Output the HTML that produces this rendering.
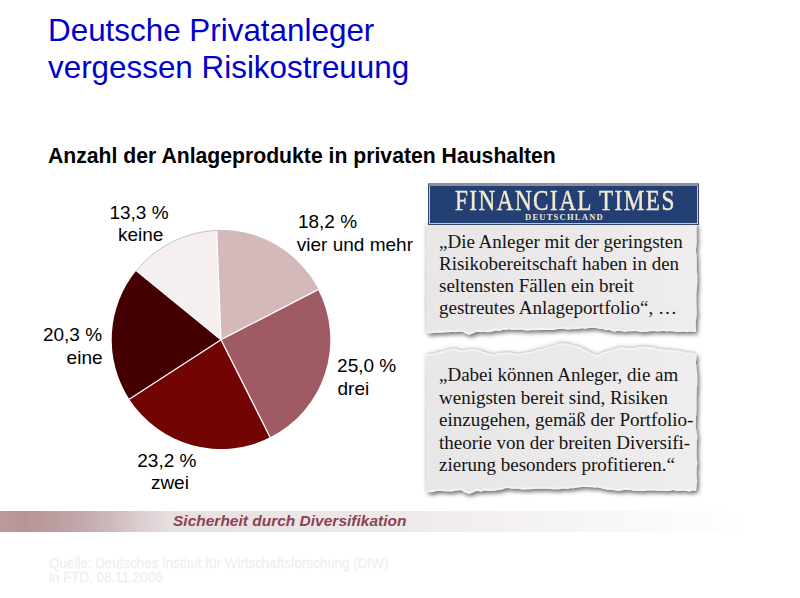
<!DOCTYPE html>
<html><head><meta charset="utf-8">
<style>
html,body{margin:0;padding:0;background:#fff;width:800px;height:598px;overflow:hidden;position:relative}
.a{position:absolute;white-space:nowrap}
.sans{font-family:"Liberation Sans",sans-serif}
.serif{font-family:"Liberation Serif",serif}
#title{left:48px;top:13.3px;font-size:31.4px;line-height:36.8px;color:#0000cc}
#sub{left:48px;top:143.3px;font-size:21.2px;font-weight:bold;color:#000;line-height:26px}
.lbl{font-size:19px;line-height:22px;color:#000}
#bar{left:0;top:511px;width:800px;height:21px;background:linear-gradient(to right,#bb999d 0px,#b89497 25px,#bea3a6 70px,#ccb8ba 110px,#dbcfd0 140px,#e6dfe0 170px,#efeaea 400px,#f8f6f6 600px,#fff 750px)}
#bartxt{left:173px;top:511.3px;font-size:15.5px;line-height:20px;font-weight:bold;font-style:italic;color:#8c4254}
.note{font-size:19px;line-height:22px;color:#141414}
#foot{left:49px;top:556px;font-size:13.4px;line-height:13.3px;color:#efefef;-webkit-text-stroke:0.35px #efefef;transform:scaleY(1.1);transform-origin:0 0}
</style></head>
<body>
<div id="title" class="a sans">Deutsche Privatanleger<br>vergessen Risikostreuung</div>
<div id="sub" class="a sans">Anzahl der Anlageprodukte in privaten Haushalten</div>

<svg class="a" style="left:0;top:0" width="800" height="598" viewBox="0 0 800 598">
  <g id="pie"><path d="M221.0,339.7 L216.61,230.49 A109.3,109.3 0 0 1 318.13,289.57 Z" fill="#d4b8ba"/><path d="M221.0,339.7 L318.13,289.57 A109.3,109.3 0 0 1 270.11,437.35 Z" fill="#a05a64"/><path d="M221.0,339.7 L270.11,437.35 A109.3,109.3 0 0 1 129.28,399.15 Z" fill="#720404"/><path d="M221.0,339.7 L129.28,399.15 A109.3,109.3 0 0 1 136.30,270.62 Z" fill="#440000"/><path d="M221.0,339.7 L136.30,270.62 A109.3,109.3 0 0 1 216.61,230.49 Z" fill="#f5efef"/><line x1="221.0" y1="339.7" x2="216.57" y2="229.49" stroke="#fff" stroke-width="1.3"/><line x1="221.0" y1="339.7" x2="319.01" y2="289.11" stroke="#fff" stroke-width="1.3"/><line x1="221.0" y1="339.7" x2="270.56" y2="438.24" stroke="#fff" stroke-width="1.3"/><line x1="221.0" y1="339.7" x2="128.44" y2="399.69" stroke="#fff" stroke-width="1.3"/><line x1="221.0" y1="339.7" x2="135.52" y2="269.99" stroke="#fff" stroke-width="1.3"/><path d="M136.30,270.62 A109.3,109.3 0 0 1 318.13,289.57" fill="none" stroke="#c8b6ba" stroke-width="0.9"/></g>
</svg>



<div class="a sans lbl" id="l0" style="left:109.4px;top:201.6px">13,3 %</div>
<div class="a sans lbl" id="l1" style="left:118.0px;top:223.9px">keine</div>
<div class="a sans lbl" id="l2" style="left:297.9px;top:211.4px">18,2 %</div>
<div class="a sans lbl" id="l3" style="left:296.8px;top:233.7px">vier und mehr</div>
<div class="a sans lbl" id="l4" style="left:42.9px;top:324.4px">20,3 %</div>
<div class="a sans lbl" id="l5" style="left:66.6px;top:346.7px">eine</div>
<div class="a sans lbl" id="l6" style="left:337.1px;top:355.1px">25,0 %</div>
<div class="a sans lbl" id="l7" style="left:337.5px;top:377.6px">drei</div>
<div class="a sans lbl" id="l8" style="left:137.3px;top:450.0px">23,2 %</div>
<div class="a sans lbl" id="l9" style="left:150.9px;top:471.7px">zwei</div>
<svg class="a" id="notes" style="left:0;top:0" width="800" height="598" viewBox="0 0 800 598">
  <defs>
    <filter id="sh" x="-10%" y="-10%" width="125%" height="130%">
      <feGaussianBlur in="SourceAlpha" stdDeviation="2.6" result="h"/>
      <feComponentTransfer in="h" result="h2"><feFuncA type="linear" slope="0.22"/></feComponentTransfer>
      <feGaussianBlur in="SourceAlpha" stdDeviation="1.9"/>
      <feOffset dx="2.2" dy="2.8"/>
      <feComponentTransfer result="b2"><feFuncA type="linear" slope="0.5"/></feComponentTransfer>
      <feMerge><feMergeNode in="h2"/><feMergeNode in="b2"/><feMergeNode in="SourceGraphic"/></feMerge>
    </filter>
    <linearGradient id="pg" x1="0" y1="0" x2="1" y2="0">
      <stop offset="0" stop-color="#e8e6e6"/><stop offset="0.6" stop-color="#ebe9e9"/><stop offset="1" stop-color="#efeded"/>
    </linearGradient>
  </defs>
  <g filter="url(#sh)">
    <path fill="url(#pg)" d="M426.5,223.0 L696.5,223.0 L696.5,232.1 L696.8,241.1 L695.8,250.2 L696.8,259.2 L696.7,268.2 L697.3,277.3 L697.0,286.4 L696.2,295.4 L696.3,304.5 L696.8,313.5 L695.7,322.6 L696.0,331.6 L692.8,331.3 L689.6,331.1 L686.4,331.8 L683.2,330.9 L680.0,331.5 L676.7,331.5 L673.3,331.1 L670.0,330.6 L666.7,331.2 L663.3,330.4 L660.0,331.0 L656.8,331.0 L653.6,330.6 L650.4,330.8 L647.2,331.4 L644.0,331.6 L640.8,331.9 L637.6,330.8 L634.4,330.7 L631.2,331.1 L628.0,330.8 L624.8,331.4 L621.6,330.8 L618.4,330.5 L615.2,331.3 L612.0,330.6 L609.0,329.4 L606.0,330.1 L603.0,328.7 L600.0,328.5 L597.0,327.8 L594.0,327.6 L591.0,327.7 L588.0,327.8 L585.0,328.4 L582.0,327.8 L579.0,328.5 L576.0,328.8 L573.0,328.6 L570.0,329.0 L566.7,329.2 L563.3,328.6 L560.0,328.6 L556.7,328.9 L553.3,329.7 L550.0,329.5 L546.7,329.5 L543.3,329.4 L540.0,329.9 L536.7,329.8 L533.3,329.6 L530.0,330.0 L527.0,330.2 L524.0,329.9 L521.0,329.1 L518.0,329.4 L515.0,329.2 L512.0,329.5 L509.0,328.8 L505.8,329.6 L502.7,329.4 L499.5,330.8 L496.3,330.1 L493.2,330.9 L490.0,331.5 L487.0,332.0 L484.0,331.2 L481.0,331.8 L478.0,331.3 L475.0,332.0 L472.0,333.4 L469.0,334.4 L465.5,333.1 L462.0,331.0 L458.6,331.3 L455.2,331.9 L451.8,331.3 L448.4,332.1 L445.0,332.0 L441.9,332.2 L438.8,332.3 L435.8,332.2 L432.7,332.8 L429.6,333.0 L426.5,332.5 L426.5,323.4 L426.2,314.2 L426.1,305.1 L426.1,296.0 L426.8,286.9 L426.1,277.8 L426.2,268.6 L426.4,259.5 L426.9,250.4 L426.1,241.2 L426.4,232.1 Z"/>
    <path fill="url(#pg)" d="M426.5,353.8 L429.9,353.2 L433.2,353.1 L436.6,352.3 L440.0,351.0 L443.1,350.9 L446.2,349.1 L449.4,348.6 L452.5,348.0 L455.6,348.1 L458.8,349.4 L461.9,349.9 L465.0,349.5 L468.0,348.7 L471.0,348.7 L474.0,348.6 L477.0,349.0 L480.0,349.5 L483.0,351.0 L486.0,352.0 L490.0,353.2 L494.0,354.0 L497.2,353.1 L500.5,352.1 L503.8,352.4 L507.0,352.0 L510.2,352.0 L513.5,352.6 L516.8,353.6 L520.0,353.0 L523.0,352.7 L526.0,351.8 L529.0,351.4 L532.0,350.9 L535.0,350.0 L538.2,348.2 L541.5,348.7 L544.8,347.5 L548.0,346.0 L551.2,345.8 L554.5,344.8 L557.8,343.2 L561.0,342.5 L564.5,342.9 L568.0,343.0 L571.5,344.6 L575.0,345.0 L578.0,345.6 L581.0,347.0 L584.0,348.7 L587.0,350.0 L590.0,352.0 L593.8,353.1 L597.5,354.7 L600.6,352.7 L603.8,351.5 L606.9,350.5 L610.0,350.0 L613.0,348.4 L616.0,348.1 L619.0,346.6 L622.0,346.6 L625.7,347.6 L629.3,347.4 L633.0,347.5 L636.7,346.4 L640.3,346.1 L644.0,346.0 L647.2,346.1 L650.4,346.6 L653.6,346.5 L656.8,348.2 L660.0,348.0 L663.0,349.3 L666.0,348.7 L669.0,349.2 L672.0,348.9 L675.0,350.0 L678.2,349.8 L681.3,350.7 L684.5,351.0 L687.7,352.5 L690.8,351.7 L694.0,352.8 L696.5,354.0 L695.9,363.1 L697.0,372.2 L697.3,381.3 L696.8,390.4 L696.3,399.5 L696.6,408.6 L695.9,417.7 L695.7,426.9 L697.3,436.0 L696.7,445.1 L696.5,454.2 L697.2,463.3 L696.4,472.4 L697.1,481.5 L696.0,490.6 L692.8,489.9 L689.6,491.2 L686.4,490.6 L683.2,490.0 L680.0,490.5 L676.7,490.5 L673.3,489.7 L670.0,490.3 L666.7,490.8 L663.3,490.6 L660.0,490.0 L656.8,490.4 L653.6,489.9 L650.4,490.2 L647.2,490.0 L644.0,490.6 L640.8,490.8 L637.6,490.3 L634.4,490.5 L631.2,489.7 L628.0,489.8 L624.8,489.4 L621.6,490.2 L618.4,490.4 L615.2,490.1 L612.0,489.6 L609.0,489.5 L606.0,489.0 L603.0,488.4 L600.0,487.5 L597.0,486.9 L594.0,487.2 L591.0,486.8 L588.0,486.8 L585.0,486.3 L582.0,486.5 L579.0,487.1 L576.0,487.3 L573.0,488.1 L570.0,488.0 L566.7,488.7 L563.3,488.1 L560.0,488.9 L556.7,489.0 L553.3,489.1 L550.0,488.5 L546.7,488.4 L543.3,488.3 L540.0,488.4 L536.7,488.4 L533.3,488.5 L530.0,489.0 L527.0,489.0 L524.0,489.2 L521.0,489.0 L518.0,488.3 L515.0,488.4 L512.0,488.4 L509.0,487.8 L505.8,487.7 L502.7,488.9 L499.5,489.7 L496.3,490.0 L493.2,490.4 L490.0,490.5 L487.0,490.6 L484.0,490.2 L481.0,491.2 L478.0,490.7 L475.0,491.0 L472.0,492.6 L469.0,493.4 L465.5,492.4 L462.0,490.0 L458.6,490.1 L455.2,490.3 L451.8,491.2 L448.4,491.1 L445.0,491.0 L441.9,490.6 L438.8,490.6 L435.8,490.8 L432.7,491.9 L429.6,491.8 L426.5,491.5 L426.8,482.3 L426.2,473.1 L426.3,464.0 L426.3,454.8 L426.2,445.6 L426.6,436.4 L426.3,427.2 L426.4,418.1 L426.1,408.9 L426.9,399.7 L426.4,390.5 L426.5,381.3 L426.6,372.2 L426.9,363.0 Z"/>
  </g>
  <path fill="none" stroke="#f5f4f4" stroke-width="2.2" d="M426.5,355.0 L429.9,354.4 L433.2,354.3 L436.6,353.5 L440.0,352.2 L443.1,352.1 L446.2,350.3 L449.4,349.8 L452.5,349.2 L455.6,349.3 L458.8,350.6 L461.9,351.1 L465.0,350.7 L468.0,349.9 L471.0,349.9 L474.0,349.8 L477.0,350.2 L480.0,350.7 L483.0,352.2 L486.0,353.2 L490.0,354.4 L494.0,355.2 L497.2,354.3 L500.5,353.3 L503.8,353.6 L507.0,353.2 L510.2,353.2 L513.5,353.8 L516.8,354.8 L520.0,354.2 L523.0,353.9 L526.0,353.0 L529.0,352.6 L532.0,352.1 L535.0,351.2 L538.2,349.4 L541.5,349.9 L544.8,348.7 L548.0,347.2 L551.2,347.0 L554.5,346.0 L557.8,344.4 L561.0,343.7 L564.5,344.1 L568.0,344.2 L571.5,345.8 L575.0,346.2 L578.0,346.8 L581.0,348.2 L584.0,349.9 L587.0,351.2 L590.0,353.2 L593.8,354.3 L597.5,355.9 L600.6,353.9 L603.8,352.7 L606.9,351.7 L610.0,351.2 L613.0,349.6 L616.0,349.3 L619.0,347.8 L622.0,347.8 L625.7,348.8 L629.3,348.6 L633.0,348.7 L636.7,347.6 L640.3,347.3 L644.0,347.2 L647.2,347.3 L650.4,347.8 L653.6,347.7 L656.8,349.4 L660.0,349.2 L663.0,350.5 L666.0,349.9 L669.0,350.4 L672.0,350.1 L675.0,351.2 L678.2,351.0 L681.3,351.9 L684.5,352.2 L687.7,353.7 L690.8,352.9 L694.0,354.0 L696.5,355.2"/>
  <path fill="none" stroke="#c9c7c7" stroke-width="0.7" d="M426.5,353.8 L429.9,353.2 L433.2,353.1 L436.6,352.3 L440.0,351.0 L443.1,350.9 L446.2,349.1 L449.4,348.6 L452.5,348.0 L455.6,348.1 L458.8,349.4 L461.9,349.9 L465.0,349.5 L468.0,348.7 L471.0,348.7 L474.0,348.6 L477.0,349.0 L480.0,349.5 L483.0,351.0 L486.0,352.0 L490.0,353.2 L494.0,354.0 L497.2,353.1 L500.5,352.1 L503.8,352.4 L507.0,352.0 L510.2,352.0 L513.5,352.6 L516.8,353.6 L520.0,353.0 L523.0,352.7 L526.0,351.8 L529.0,351.4 L532.0,350.9 L535.0,350.0 L538.2,348.2 L541.5,348.7 L544.8,347.5 L548.0,346.0 L551.2,345.8 L554.5,344.8 L557.8,343.2 L561.0,342.5 L564.5,342.9 L568.0,343.0 L571.5,344.6 L575.0,345.0 L578.0,345.6 L581.0,347.0 L584.0,348.7 L587.0,350.0 L590.0,352.0 L593.8,353.1 L597.5,354.7 L600.6,352.7 L603.8,351.5 L606.9,350.5 L610.0,350.0 L613.0,348.4 L616.0,348.1 L619.0,346.6 L622.0,346.6 L625.7,347.6 L629.3,347.4 L633.0,347.5 L636.7,346.4 L640.3,346.1 L644.0,346.0 L647.2,346.1 L650.4,346.6 L653.6,346.5 L656.8,348.2 L660.0,348.0 L663.0,349.3 L666.0,348.7 L669.0,349.2 L672.0,348.9 L675.0,350.0 L678.2,349.8 L681.3,350.7 L684.5,351.0 L687.7,352.5 L690.8,351.7 L694.0,352.8 L696.5,354.0"/>
  <path fill="none" stroke="#f3f2f2" stroke-width="2" d="M696.0,331.0 L692.8,330.7 L689.6,330.5 L686.4,331.2 L683.2,330.3 L680.0,330.9 L676.7,330.9 L673.3,330.5 L670.0,330.0 L666.7,330.6 L663.3,329.8 L660.0,330.4 L656.8,330.4 L653.6,330.0 L650.4,330.2 L647.2,330.8 L644.0,331.0 L640.8,331.3 L637.6,330.2 L634.4,330.1 L631.2,330.5 L628.0,330.2 L624.8,330.8 L621.6,330.2 L618.4,329.9 L615.2,330.7 L612.0,330.0 L609.0,328.8 L606.0,329.5 L603.0,328.1 L600.0,327.9 L597.0,327.2 L594.0,327.0 L591.0,327.1 L588.0,327.2 L585.0,327.8 L582.0,327.2 L579.0,327.9 L576.0,328.2 L573.0,328.0 L570.0,328.4 L566.7,328.6 L563.3,328.0 L560.0,328.0 L556.7,328.3 L553.3,329.1 L550.0,328.9 L546.7,328.9 L543.3,328.8 L540.0,329.3 L536.7,329.2 L533.3,329.0 L530.0,329.4 L527.0,329.6 L524.0,329.3 L521.0,328.5 L518.0,328.8 L515.0,328.6 L512.0,328.9 L509.0,328.2 L505.8,329.0 L502.7,328.8 L499.5,330.2 L496.3,329.5 L493.2,330.3 L490.0,330.9 L487.0,331.4 L484.0,330.6 L481.0,331.2 L478.0,330.7 L475.0,331.4 L472.0,332.8 L469.0,333.8 L465.5,332.5 L462.0,330.4 L458.6,330.7 L455.2,331.3 L451.8,330.7 L448.4,331.5 L445.0,331.4 L441.9,331.6 L438.8,331.7 L435.8,331.6 L432.7,332.2 L429.6,332.4 L426.5,331.9"/>
  <path fill="none" stroke="#f3f2f2" stroke-width="2" d="M696.0,490.0 L692.8,489.3 L689.6,490.6 L686.4,490.0 L683.2,489.4 L680.0,489.9 L676.7,489.9 L673.3,489.1 L670.0,489.7 L666.7,490.2 L663.3,490.0 L660.0,489.4 L656.8,489.8 L653.6,489.3 L650.4,489.6 L647.2,489.4 L644.0,490.0 L640.8,490.2 L637.6,489.7 L634.4,489.9 L631.2,489.1 L628.0,489.2 L624.8,488.8 L621.6,489.6 L618.4,489.8 L615.2,489.5 L612.0,489.0 L609.0,488.9 L606.0,488.4 L603.0,487.8 L600.0,486.9 L597.0,486.3 L594.0,486.6 L591.0,486.2 L588.0,486.2 L585.0,485.7 L582.0,485.9 L579.0,486.5 L576.0,486.7 L573.0,487.5 L570.0,487.4 L566.7,488.1 L563.3,487.5 L560.0,488.3 L556.7,488.4 L553.3,488.5 L550.0,487.9 L546.7,487.8 L543.3,487.7 L540.0,487.8 L536.7,487.8 L533.3,487.9 L530.0,488.4 L527.0,488.4 L524.0,488.6 L521.0,488.4 L518.0,487.7 L515.0,487.8 L512.0,487.8 L509.0,487.2 L505.8,487.1 L502.7,488.3 L499.5,489.1 L496.3,489.4 L493.2,489.8 L490.0,489.9 L487.0,490.0 L484.0,489.6 L481.0,490.6 L478.0,490.1 L475.0,490.4 L472.0,492.0 L469.0,492.8 L465.5,491.8 L462.0,489.4 L458.6,489.5 L455.2,489.7 L451.8,490.6 L448.4,490.5 L445.0,490.4 L441.9,490.0 L438.8,490.0 L435.8,490.2 L432.7,491.3 L429.6,491.2 L426.5,490.9"/>
</svg>
<div class="a" style="left:428px;top:183px;width:271px;height:42px;box-sizing:border-box;background:#233f73;border:1px solid #34466e;border-top:3px solid #8b909b;box-shadow:inset 1px 0 0 #c4c4cc,inset -1px 0 0 #c4c4cc,inset 0 -1px 0 #c4c4cc"></div>
<div class="a serif" id="ft" style="left:455px;top:185px;font-size:29px;line-height:30px;color:#f3e9cf;transform-origin:0 0;transform:scaleX(0.8);letter-spacing:1.8px;-webkit-text-stroke:0.45px #f3e9cf">FINANCIAL TIMES</div>
<div class="a serif" id="ftd" style="left:525px;top:212px;font-size:8.5px;line-height:10px;font-weight:bold;letter-spacing:1.25px;color:#f3e9cf">DEUTSCHLAND</div>
<div class="a serif note" style="left:439px;top:230.8px;line-height:22.2px">„Die Anleger mit der geringsten<br>Risikobereitschaft haben in den<br>seltensten Fällen ein breit<br>gestreutes Anlageportfolio“, …</div>
<div class="a serif note" style="left:439px;top:364px;line-height:22.6px">„Dabei können Anleger, die am<br>wenigsten bereit sind, Risiken<br>einzugehen, gemäß der Portfolio-<br>theorie von der breiten Diversifi-<br>zierung besonders profitieren.“</div>

<div id="bar" class="a"></div>
<div id="bartxt" class="a sans">Sicherheit durch Diversifikation</div>
<div id="foot" class="a sans">Quelle: Deutsches Institut für Wirtschaftsforschung (DIW)<br>in FTD, 08.11.2006</div>
</body></html>
